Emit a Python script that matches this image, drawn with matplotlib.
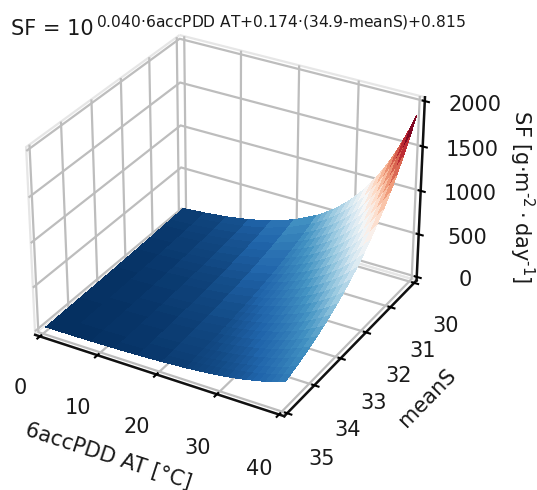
import numpy as np
import matplotlib
matplotlib.use('Agg')
import matplotlib.pyplot as plt

acc_pdd = [0, 4, 8, 12, 16, 20, 24, 25, 26, 27, 28, 29, 30, 31, 32, 33, 34, 35, 36, 37, 38, 39, 40]
mean_s = [30, 30.25, 30.5, 30.75, 31, 31.25, 31.5, 31.75, 32, 32.25, 32.5, 32.75, 33, 33.25, 33.5, 33.75, 34, 34.25, 34.5, 34.7, 34.9]
sf_3000 = [46.5,67.2,97.2,140.5,203,294,424,465,510,559,613,672,737,808,886,972,1066,1169,1281,1405,1541,1689,1852]
sf_3025 = [42.1,60.8,87.9,127,184,266,384,421,461,506,555,608,667,731,801,879,964,1057,1159,1271,1394,1528,1675]
sf_3050 = [38.1,55.0,79.6,115,166,241,347,381,417,458,502,550,603,661,725,796,873,957,1048,1150,1261,1382,1516]
sf_3075 = [34.4,49.7,72.0,104,150,218,314,344,378,414,454,497,546,598,656,720,789,865,948,1040,1141,1250,1371]
sf_3100 = [31.2,45.0,65.1,94.1,136,197,284,312,342,374,411,450,494,541,594,651,714,783,858,941,1032,1131,1241]
sf_3125 = [28.2,40.7,58.9,85.1,123,178,257,282,309,339,371,407,447,490,537,589,646,708,776,851,934,1024,1122]
sf_3150 = [25.5,36.8,53.3,77.0,111,161,232,255,280,307,336,368,404,443,486,533,584,641,702,770,845,926,1015]
sf_3175 = [23.1,33.3,48.2,69.7,101,146,210,231,253,277,304,333,366,401,439,482,529,580,635,697,764,838,919]
sf_3200 = [20.9,30.2,43.6,63.0,91.1,132,190,209,229,251,275,302,331,363,398,436,478,525,575,630,691,758,831]
sf_3225 = [18.9,27.3,39.5,57.0,82.4,119,172,189,207,227,249,273,299,328,360,395,433,475,520,570,625,686,752]
sf_3250 = [17.1,24.7,35.7,51.6,74.6,108,156,171,187,205,225,247,271,297,325,357,392,429,471,516,566,620,680]
sf_3275 = [15.4,22.3,32.3,46.7,67.4,97.7,141,154,169,186,204,223,245,268,294,323,354,388,426,467,512,561,615]
sf_3300 = [14.0,20.2,29.2,42.2,61.0,88.4,127,140,153,168,184,202,222,243,266,292,320,351,385,422,463,508,557]
sf_3325 = [12.6,18.3,26.4,38.2,55.2,79.9,115,126,139,152,167,183,200,220,241,264,290,318,348,382,419,459,504]
sf_3350 = [11.4,16.5,23.9,34.6,50.0,72.4,104,114,126,138,151,165,181,199,218,239,262,288,315,346,379,416,456]
sf_3375 = [10.4,15.0,21.6,31.3,45.2,65.4,94.4,104,114,124,136,150,164,180,197,216,237,260,285,313,343,376,412]
sf_3400 = [9.4,13.5,19.6,28.3,40.9,59.2,85.4,93.7,103,113,123,135,148,163,178,196,215,235,258,283,310,340,373]
sf_3425 = [8.5,12.2,17.7,25.6,37.0,53.6,77.3,84.7,92.9,102,112,122,134,147,161,177,194,213,233,256,281,308,337]
sf_3450 = [7.7,11.1,16.0,23.2,33.5,48.5,69.9,76.6,84.0,92.1,101,111,121,133,146,160,176,193,211,232,254,278,305]
sf_3470 = [7.1,10.2,14.8,21.4,30.9,44.7,64.5,70.8,77.6,85.1,93.3,102,112,123,135,148,162,178,195,214,235,257,282]
sf_3490 = [6.5,9.4,13.6,19.7,28.5,41.3,59.5,65.3,71.6,78.5,86.1,94.3,103,113,124,136,150,164,180,197,216,237,260]
x_ticks = [0, 10, 20, 30, 40]
y_ticks = [30, 31, 32, 33, 34, 35]
z_ticks = [0, 500, 1000, 1500, 2000]

sf = np.array([sf_3000, sf_3025, sf_3050, sf_3075, sf_3100, sf_3125, sf_3150, sf_3175, sf_3200, sf_3225,
               sf_3250, sf_3275, sf_3300, sf_3325, sf_3350, sf_3375, sf_3400, sf_3425, sf_3450, sf_3470, sf_3490])
X, Y = np.meshgrid(acc_pdd, mean_s)

plt.rcParams['font.family'] = 'DejaVu Sans'
plt.rcParams['axes3d.automargin'] = True
fig = plt.figure(figsize=(5.37, 4.9), dpi=100)
ax = fig.add_axes([-0.0275, 0.0935, 0.887, 0.905], projection='3d')
ax.plot_surface(X, Y, sf, cmap='RdBu_r', vmin=sf.min(), vmax=1750, rstride=1, cstride=1,
                linewidth=0, antialiased=False)

ax.set_xlim(0, 40)
ax.set_ylim(35, 30)
ax.set_zlim(0, 2000)
ax.set_xticks(x_ticks)
ax.set_yticks(y_ticks)
ax.set_zticks(z_ticks)
ax.tick_params(axis='both', labelsize=15, labelcolor='#1a1a1a')
ax.tick_params(axis='z', labelsize=15, pad=14)
ax.tick_params(axis='x', pad=14)
ax.tick_params(axis='y', pad=14)
ax.set_xlabel('6accPDD AT [°C]' + ' ' * 3, fontsize=15, labelpad=22, color='#1a1a1a')
ax.set_ylabel(' ' * 5 + 'meanS', fontsize=15, labelpad=21, color='#1a1a1a')
ax.zaxis.set_rotate_label(False)
ax.set_zlabel(' ' * 6 + r'SF [g$\cdot$m$^{\text{-2}}\cdot$day$^{\text{-1}}$]', fontsize=15, labelpad=24,
              rotation=270, color='#1a1a1a')
for a in (ax.xaxis, ax.yaxis, ax.zaxis):
    a.set_pane_color((1, 1, 1, 1))
    a._axinfo['grid']['color'] = (0.74, 0.74, 0.74, 1)
    a._axinfo['grid']['linewidth'] = 1.6
    a._axinfo['tick']['linewidth'] = {True: 1.5, False: 1.0}
    a.line.set_linewidth(1.8)
    a.line.set_color('#111111')
    a.pane.set_edgecolor((0.9, 0.9, 0.9, 1))
    a.pane.set_linewidth(1.6)

fig.text(0.02, 0.928, 'SF = 10', fontsize=15, color='#1a1a1a')
fig.text(0.178, 0.945, r'0.040$\cdot$6accPDD AT+0.174$\cdot$(34.9-meanS)+0.815',
         fontsize=11.2, color='#1a1a1a')
fig.savefig('out.png', dpi=100)
